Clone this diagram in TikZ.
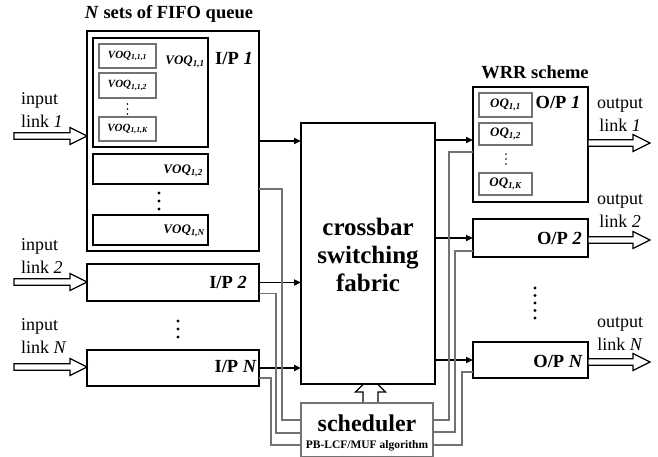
\documentclass[tikz,border=0pt]{standalone}
\usepackage{fontspec}
\setmainfont{Liberation Serif}
\usetikzlibrary{arrows.meta}
\newcommand\boxat[6]{\node[#1, minimum width={#5pt-#3pt}, minimum height={#6pt-#4pt}] (#2) at ({(#3+#5)/2},{(#4+#6)/2}) {};}
\begin{document}
\begin{tikzpicture}[x=1pt,y=-1pt,
  outerbox/.style={draw, line width=2.6pt, inner sep=0pt, outer sep=0pt},
  midbox/.style={draw, line width=2pt, inner sep=0pt, outer sep=0pt},
  qbox/.style={draw=black!55, line width=1.3pt, inner sep=0pt, outer sep=0pt},
  xbox/.style={draw, line width=2.6pt, fill=white, inner sep=0pt, outer sep=0pt},
  schedbox/.style={draw=black!55, line width=1.3pt, fill=white, inner sep=0pt, outer sep=0pt},
  arr/.style={line width=1.8pt, -{Triangle[length=7pt,width=6pt]}},
  gline/.style={draw=black!55, line width=1.2pt},
  hol/.style={draw, line width=1.2pt, fill=white, line join=miter},
  lab/.style={font=\fontsize{18}{23}\selectfont, inner sep=0pt},
  blab/.style={font=\fontsize{18.5}{22}\selectfont\bfseries, inner sep=0pt},
  qlab/.style={font=\fontsize{11}{13}\selectfont\bfseries\itshape, inner sep=0pt},
  vlab/.style={font=\fontsize{13}{15}\selectfont\bfseries\itshape, inner sep=0pt},
  bigdot/.style={fill, circle, inner sep=0pt, minimum size=3.4pt},
  smalldot/.style={fill, circle, inner sep=0pt, minimum size=1.6pt},
  pics/harrow/.style={code={\draw[hol] (0,-3.2) -- ({#1-17},-3.2) -- ({#1-17},-8.5) -- (#1,0) -- ({#1-17},8.5) -- ({#1-17},3.2) -- (0,3.2) -- cycle;}}
]
\useasboundingbox[fill=white] (0,0) rectangle (658,457);

% ---------- input side ----------
\node[blab] (title) at (169,14) {\textit{N} sets of FIFO queue};
\boxat{outerbox}{ip1}{87}{31}{259}{251}
\boxat{midbox}{voq11}{93}{38}{208}{147}
\boxat{qbox}{q111}{99}{44}{156}{68}
\boxat{qbox}{q112}{99}{73}{156}{98}
\boxat{qbox}{q11k}{99}{117}{156}{141}
\node[qlab] at (q111) {VOQ\textsubscript{1,1,1}};
\node[qlab] at (q112) {VOQ\textsubscript{1,1,2}};
\node[qlab] at (q11k) {VOQ\textsubscript{1,1,K}};
\node[smalldot] at (127.5,104) {};
\node[smalldot] at (127.5,109) {};
\node[smalldot] at (127.5,114) {};
\node[vlab] (voq11lab) at (185,62) {VOQ\textsubscript{1,1}};
\node[blab] (ip1lab) at (234,58) {I/P \textit{1}};
\boxat{midbox}{voq12}{93}{154}{208}{184}
\node[vlab, anchor=east] at (203,171) {VOQ\textsubscript{1,2}};
\node[bigdot] at (159,193) {};
\node[bigdot] at (159,201) {};
\node[bigdot] at (159,209) {};
\boxat{midbox}{voq1n}{93}{215}{208}{245}
\node[vlab, anchor=east] at (205,231) {VOQ\textsubscript{1,N}};

\boxat{outerbox}{ip2}{87}{264}{259}{301}
\node[blab, anchor=east] at (247,282) {I/P \textit{2}};
\node[bigdot] at (178,321) {};
\node[bigdot] at (178,329) {};
\node[bigdot] at (178,337) {};
\boxat{outerbox}{ipn}{87}{350}{259}{386}
\node[blab, anchor=east] at (257,366) {I/P \textit{N}};

\node[lab, anchor=west, align=left] (in1lab) at (21,110) {input\\link \textit{1}};
\node[lab, anchor=west, align=left] (in2lab) at (21,256.5) {input\\link \textit{2}};
\node[lab, anchor=west, align=left] (inNlab) at (21,336.5) {input\\link \textit{N}};
\pic at (14,136) {harrow=73};
\pic at (14,282) {harrow=73};
\pic at (14,367) {harrow=73};

% ---------- scheduler up arrow (under the fabric) ----------
\draw[hol] (363,403) -- (363,392) -- (355.5,392) -- (370.5,377) -- (385.5,392) -- (378,392) -- (378,403);

% ---------- crossbar ----------
\boxat{xbox}{xbar}{301}{123}{435}{384}
\node[font=\fontsize{25}{28}\selectfont\bfseries, align=center, inner sep=0pt] (xlab) at (368,255) {crossbar\\switching\\fabric};

\boxat{schedbox}{sched}{301}{403}{433}{457}
\node[font=\fontsize{24}{26}\selectfont\bfseries, inner sep=0pt] (schedlab) at (367,423) {scheduler};
\node[font=\fontsize{11.5}{13}\selectfont\bfseries, inner sep=0pt] (alglab) at (367,446) {PB-LCF/MUF algorithm};

% ---------- output side ----------
\node[blab] (wrr) at (535,72) {WRR scheme};
\boxat{outerbox}{op1}{473}{87}{588}{202}
\boxat{qbox}{oq11}{479}{93}{532}{117}
\boxat{qbox}{oq12}{479}{123}{532}{145}
\boxat{qbox}{oq1k}{479}{173}{532}{195}
\node[vlab] at (oq11) {OQ\textsubscript{1,1}};
\node[vlab] at (oq12) {OQ\textsubscript{1,2}};
\node[vlab] at (oq1k) {OQ\textsubscript{1,K}};
\node[smalldot] at (506,154) {};
\node[smalldot] at (506,159) {};
\node[smalldot] at (506,164) {};
\node[blab] (op1lab) at (558,102) {O/P \textit{1}};
\boxat{outerbox}{op2}{473}{219}{588}{257}
\node[blab, anchor=east] at (582,238) {O/P \textit{2}};
\foreach \yy in {288,295.5,303,310.5,318} {\node[bigdot] at (535,\yy) {};}
\boxat{outerbox}{opn}{473}{342}{588}{378}
\node[blab, anchor=east] at (583,361) {O/P \textit{N}};

\node[lab, align=center] (out1lab) at (620,115) {output\\link \textit{1}};
\node[lab, align=center] (out2lab) at (620,211) {output\\link \textit{2}};
\node[lab, align=center] (outNlab) at (620,334) {output\\link \textit{N}};
\pic at (588,143) {harrow=62};
\pic at (588,240) {harrow=62};
\pic at (588,362) {harrow=62};

% ---------- black data connectors ----------
\draw[arr] (ip1.east) -- (ip1.east -| xbar.west);
\draw[arr] (ip2.east) -- (ip2.east -| xbar.west);
\draw[arr] (ipn.east) -- (ipn.east -| xbar.west);
\coordinate (o1in) at ([yshift=4.5pt]op1.west);
\draw[arr] (o1in -| xbar.east) -- (o1in);
\draw[arr] (op2.west -| xbar.east) -- (op2.west);
\draw[arr] (opn.west -| xbar.east) -- (opn.west);

% ---------- grey control connectors ----------
\draw[gline] ([yshift=-48pt]ip1.east) -- ++(23,0) |- ([yshift=10pt]sched.west);
\draw[gline] ([yshift=-11pt]ip2.east) -- ++(17,0) |- ([yshift=-3pt]sched.west);
\draw[gline] ([yshift=-10pt]ipn.east) -- ++(12,0) |- ([yshift=-15pt]sched.west);
\draw[gline] ([yshift=-7.5pt]op1.west) -- ++(-24,0) |- ([yshift=10pt]sched.east);
\draw[gline] ([yshift=-13pt]op2.west) -- ++(-18,0) |- ([yshift=-2pt]sched.east);
\draw[gline] ([yshift=-12pt]opn.west) -- ++(-11,0) |- ([yshift=-15pt]sched.east);
\end{tikzpicture}
\end{document}
